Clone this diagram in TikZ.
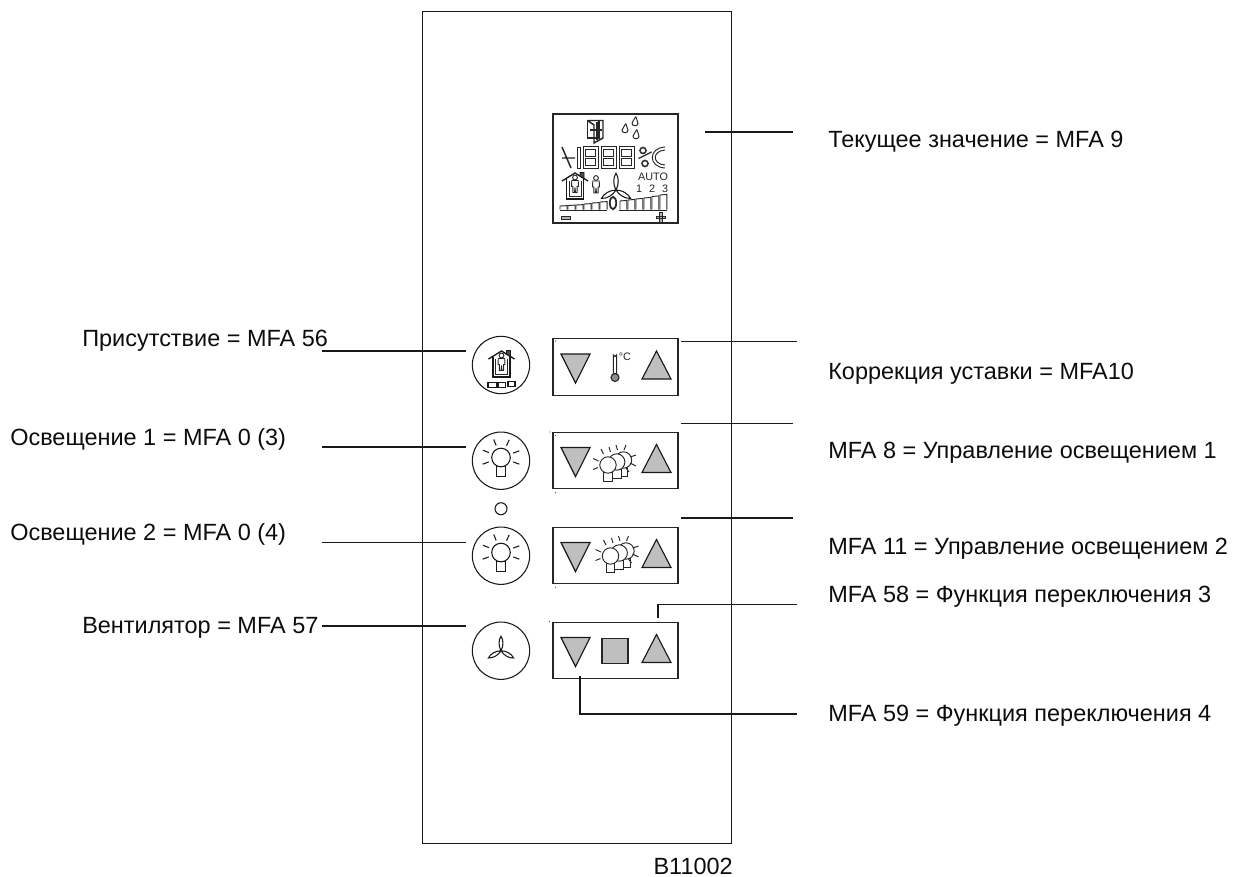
\documentclass[tikz,border=0pt]{standalone}
\usepackage{fontspec}
\setmainfont{Liberation Sans}
\tikzset{
  x=0.75pt,y=-0.75pt,
  ln/.style={line width=1.15pt,black!90},
  thin1/.style={line width=0.7pt,black!85},
  lbl/.style={anchor=base west,inner sep=0pt,font=\fontsize{17.6}{20}\selectfont,text=black!95},
  lcdtxt/.style={inner sep=0pt,font=\fontsize{8.1}{10}\selectfont,text=black!85},
  btn/.style={circle,draw,line width=0.8pt,black!90,minimum size=43pt,inner sep=0pt},
  keybox/.style={rectangle,draw,line width=1pt,black!85,minimum width=93.8pt,minimum height=42.4pt,inner sep=0pt},
  tri/.style={draw=black!90,fill=black!25,line width=0.85pt,line join=miter},
  pics/trikeys/.style={code={
    \draw[tri] (-54.5,-13) -- (-25.5,-13) -- (-40,16) -- cycle;
    \draw[tri] (26.5,12) -- (55.5,12) -- (41,-16) -- cycle;
  }},
  pics/globe/.style={code={
    \draw[line width=0.8pt,black!90,fill=white] (-4.5,9) rectangle (4.5,19);
    \draw[line width=0.8pt,black!90,fill=white] (0,0) circle (9.3);
  }},
  pics/bulb/.style={code={
    \pic {globe};
    \foreach \a in {-20,-65,-112,-158,160,20}{
      \draw[line width=0.8pt,black!90] (\a:13) -- (\a:19.5);
    }
  }},
  pics/smallbulb/.style={code={
    \draw[thin1,fill=white] (-4.3,7.5) rectangle (4.3,16);
    \draw[thin1,fill=white] (0,0) circle (8.2);
  }},
  pics/bulbtrio/.style={code={
    \pic at (15.5,-5) {smallbulb};
    \pic at (8.7,-3) {smallbulb};
    \pic at (0,0) {smallbulb};
    \draw[thin1] (-15,-6.5) -- (-9.5,-4) (-15,4.5) -- (-10,2.5) (-7,-16) -- (-4.5,-11);
    \draw[thin1] (1,-18) -- (2.5,-13) (8,-20) -- (9.5,-15) (18,-20) -- (16,-15);
    \draw[thin1] (28,-10) -- (22,-8) (28,1) -- (22,-2) (21,7) -- (18,3);
  }},
  pics/fan/.style={code={
    \foreach \a in {90,210,330}{
      \begin{scope}[rotate=\a]
        \draw[line width=0.8pt,black!90] (0,0) .. controls (4.5,2.6) and (11,2.6) .. (14.5,0) .. controls (11,-2.6) and (4.5,-2.6) .. (0,0);
      \end{scope}
    }
  }},
  pics/person/.style={code={
    \draw[thin1,fill=white] (0,-7) circle (2.4);
    \draw[thin1,fill=white] (-3.2,-4) -- (3.2,-4) -- (3.5,2) -- (2.2,2) -- (2.2,8) -- (0.5,8) -- (0,3) -- (-0.5,8) -- (-2.2,8) -- (-2.2,2) -- (-3.5,2) -- cycle;
  }},
  pics/house/.style={code={
    \draw[line width=1pt,black!90] (-13,8) -- (0,0) -- (13,8);
    \draw[line width=0.7pt,black!90,fill=black!70] (5,3) -- (5,-0.5) -- (9,-0.5) -- (9,5.5) -- cycle;
    \draw[line width=0.95pt,black!90] (-8.5,6) -- (-8.5,26) -- (8.5,26) -- (8.5,6);
    \draw[thin1] (-6,8) -- (-6,23.5) -- (6,23.5) -- (6,8);
    \pic at (0,11.5) {person};
  }},
  pics/seg/.style={code={
    \draw[thin1] (0,0) rectangle (15,21.5);
    \draw[thin1] (2.5,2.5) rectangle (12.5,9.5);
    \draw[thin1] (2.5,12) rectangle (12.5,19);
  }},
  pics/drop/.style={code={
    \draw[thin1] (0.8,-5.5) .. controls (0.2,-3) and (-3,-1) .. (-3,1.2) .. controls (-3,4.6) and (3,4.6) .. (3,1.2) .. controls (3,-1) and (1,-3) .. (0.8,-5.5);
  }}
}
\begin{document}
\begin{tikzpicture}
\useasboundingbox (0,0) rectangle (1239,876);
\fill[white] (0,0) rectangle (1239,876);

% panel
\node[rectangle,draw,line width=0.7pt,black!90,minimum width=231.7pt,minimum height=624pt,inner sep=0pt] (panel) at (576.5,427) {};

% display
\node[keybox,minimum height=81.8pt] (lcd) at (615.5,168.5) {};
% door
\draw[line width=1.2pt,black!85] (587.5,120.5) rectangle (599,138);
\draw[line width=1.1pt,black!85] (587.5,120.5) -- (603,120.5) -- (603,138) -- (594,143) -- (594,125) -- (587.5,120.5);
\draw[line width=0.9pt,black!85] (590,130) -- (602,130) (597,122) -- (597,140);
% drops
\pic at (625,129) {drop};
\pic at (635,122) {drop};
\pic at (636,135) {drop};
% segment row
\draw[line width=1.1pt,black!85] (562,147) -- (571,168) (562,158) -- (575,158);
\draw[thin1] (577,147) rectangle (580.5,168);
\pic at (583,146.5) {seg};
\pic at (601,146.5) {seg};
\pic at (619,146.5) {seg};
\draw[line width=1.2pt,black!80] (643,150.5) circle (3) (645,163.5) circle (3);
\draw[line width=1pt,black!80] (638.5,158.5) -- (651.5,152);
\draw[thin1] (665,147) .. controls (648,148) and (648,167) .. (665,168);
\draw[thin1] (665,150) .. controls (652,151) and (652,164) .. (665,165);
% lower row
\pic at (575,173) {house};
\pic at (596,185) {person};
\pic[scale=1.15] at (616,190) {fan};
\node[lcdtxt] (auto) at (653,177) {AUTO};
\node[lcdtxt] (n1) at (639,189) {1};
\node[lcdtxt] (n2) at (652,189) {2};
\node[lcdtxt] (n3) at (665,189) {3};
% bar graph
\draw[line width=1.2pt,black!85] (560,210.5) -- (607,210.5) (619,210.5) -- (667,210.5);
\foreach \xa/\h in {560/206,568/205.5,576/205,584/204,592/203,600/202}{
  \draw[thin1] (\xa,209.5) -- (\xa,\h) -- ++(7.2,-0.4) -- (\xa+7.2,209.5);
}
\foreach \xa/\h in {620/201,628/200,636/199,644/198,652/196.5,660/195}{
  \draw[thin1] (\xa,209.5) -- (\xa,\h) -- ++(6.8,-0.6) -- (\xa+6.8,209.5);
}
\draw[line width=1.3pt,black!85] (613,203) ellipse (3.2 and 6.2);
\draw[thin1,fill=black!30] (561,216.5) rectangle (570,219);
\draw[thin1,fill=black!30] (656,216) rectangle (665,218.5) (659,212.5) rectangle (662,222);

% buttons
\node[btn] (b1) at (501,365) {};
\node[btn] (b2) at (501,460.7) {};
\node[circle,draw,line width=0.8pt,black!90,minimum size=9pt,inner sep=0pt] (led) at (501,508.7) {};
\node[btn] (b3) at (501,555.7) {};
\node[btn] (b4) at (501,650.7) {};
\pic at (501.5,351) {house};
\draw[line width=0.8pt,black!90] (488,382.5) rectangle (497,387.5) (498.5,382.5) rectangle (505.5,387.5) (508,381.5) rectangle (515,386.5);
\pic at (501,457.5) {bulb};
\pic at (501,552.5) {bulb};
\pic at (501,650.7) {fan};

% key boxes
\node[keybox] (k1) at (615.5,367) {};
\node[keybox] (k2) at (615.5,460.5) {};
\node[keybox] (k3) at (615.5,555.5) {};
\node[keybox] (k4) at (615.5,650.5) {};
\pic at (k1) {trikeys};
\pic at (k2) {trikeys};
\pic at (k3) {trikeys};
\pic at (k4) {trikeys};
% thermometer
\draw[line width=0.8pt,black!85] (613.3,374) -- (613.3,355) arc[start angle=180,end angle=0,radius=1.7] -- (616.7,374);
\draw[line width=0.8pt,black!85,fill=black!45] (615,377.5) circle (4);
\node[lcdtxt,anchor=west] (deg) at (618.5,357) {°C};
% lamps
\pic at (608,465) {bulbtrio};
\pic at (610.5,556) {bulbtrio};
% square
\draw[line width=1pt,black!85,fill=black!25] (602,638.5) rectangle (628,663.5);
% specks
\foreach \px/\py in {555.5/341,550/432,555.5/435.5,555.5/492.7,555.5/587.3,549.5/621.5}{
  \fill[black!70] (\px,\py) circle (0.6);
}

% labels
\node[lbl] (t1) at (828,147) {Текущее значение = MFA 9};
\node[lbl] (t2) at (828,379) {Коррекция уставки = MFA10};
\node[lbl] (t3) at (828,458) {MFA 8 = Управление освещением 1};
\node[lbl] (t4) at (828,554) {MFA 11 = Управление освещением 2};
\node[lbl] (t5) at (828,602) {MFA 58 = Функция переключения 3};
\node[lbl] (t6) at (828,721) {MFA 59 = Функция переключения 4};
\node[lbl] (l1) at (82,346) {Присутствие = MFA 56};
\node[lbl] (l2) at (10,445) {Освещение 1 = MFA 0 (3)};
\node[lbl] (l3) at (10,540.7) {Освещение 2 = MFA 0 (4)};
\node[lbl] (l4) at (82,633) {Вентилятор = MFA 57};
\node[lbl,anchor=base east] (code) at (733,874) {B11002};

% connector ends
\coordinate (r1a) at (705,132); \coordinate (r1b) at (793,132);
\coordinate (r2a) at (681,341.5); \coordinate (r2b) at (797,341.5);
\coordinate (r3a) at (681,423.5); \coordinate (r3b) at (793,423.5);
\coordinate (r4a) at (681,518); \coordinate (r4b) at (793,518);
\coordinate (r5a) at (658,618); \coordinate (r5m) at (658,604.5); \coordinate (r5b) at (797,604.5);
\coordinate (r6a) at (580,676); \coordinate (r6m) at (580,714); \coordinate (r6b) at (797,714);
\coordinate (la) at (322,351); \coordinate (lb) at (466,351);
\coordinate (lc) at (322,447); \coordinate (ld) at (466,447);
\coordinate (le) at (322,542.5); \coordinate (lf) at (466,542.5);
\coordinate (lg) at (322,626); \coordinate (lh) at (466,626);

\draw[ln] (r1a) -- (r1b);
\draw[ln] (r2a) -- (r2b);
\draw[ln] (r3a) -- (r3b);
\draw[ln] (r4a) -- (r4b);
\draw[ln] (r5a) -- (r5m) -- (r5b);
\draw[ln] (r6a) -- (r6m) -- (r6b);
\draw[ln] (la) -- (lb);
\draw[ln] (lc) -- (ld);
\draw[ln] (le) -- (lf);
\draw[ln,line width=0.9pt] (lg) -- (lh);
\end{tikzpicture}
\end{document}
